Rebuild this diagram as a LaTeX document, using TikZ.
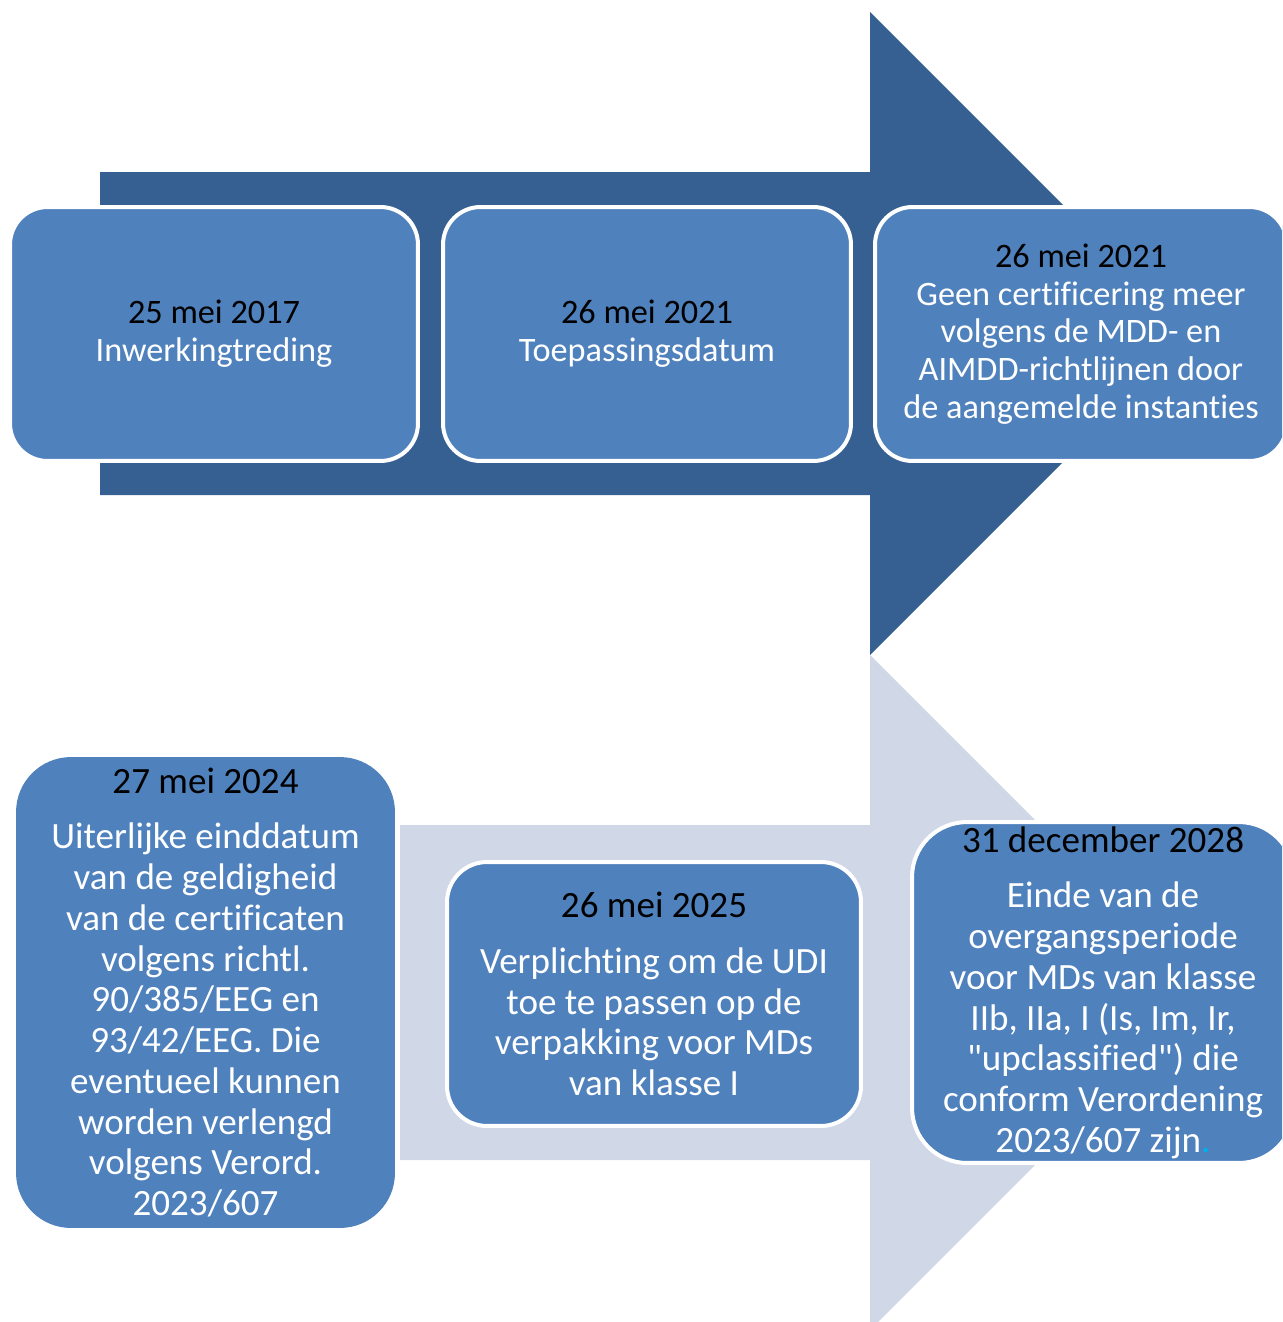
\documentclass[tikz,border=0pt]{standalone}
\usepackage{fontspec}
\setmainfont{Carlito}[Ligatures={TeX,NoCommon}]
\usetikzlibrary{positioning}
\usepackage{xcolor}
\definecolor{arrowdark}{RGB}{54,96,146}
\definecolor{arrowlight}{RGB}{208,216,232}
\definecolor{boxblue}{RGB}{79,129,189}
\definecolor{dotblue}{RGB}{0,176,240}

\begin{document}
\begin{tikzpicture}[
        x=0.02cm, y=-0.02cm,
        box/.style={draw=white, line width=0.08cm, fill=boxblue, align=center,
                    text=white, inner sep=0pt},
        topbox/.style={box, rounded corners=0.75cm, minimum width=8.16cm,
                       minimum height=5.08cm, font=\fontsize{19.5}{21.5}\selectfont},
        lowbox/.style={box, font=\fontsize{21.1}{23.2}\selectfont},
    ]

    \def\dat#1{{\color{black}#1}}

    \clip (0,0) rectangle (1282,1322);

    % ---------- Arrows in the background ----------------------------------
    \fill[arrowdark]  (100,172) -- (870,172) -- (870,12) -- (1191.5,333.5)
                      -- (870,655) -- (870,495) -- (100,495) -- cycle;
    \fill[arrowlight] (400,825) -- (870,825) -- (870,655) -- (1207.5,992.5)
                      -- (870,1330) -- (870,1160) -- (400,1160) -- cycle;

    % ---------- Upper row ------------------------------------------------
    \node[topbox] (inwerking)  at ( 214,334) {\dat{25 mei 2017}\\Inwerkingtreding};
    \node[topbox] (toepassing) at ( 647,334) {\dat{26 mei 2021}\\Toepassingsdatum};
    \node[topbox, minimum width=8.24cm] (certificering) at (1081,334)
        {\dat{26 mei 2021}\\Geen certificering meer\\volgens de MDD- en\\AIMDD-richtlijnen door\\de aangemelde instanties};

    % ---------- Lower row ------------------------------------------------
    \node[lowbox, draw=none, rounded corners=1.1cm, minimum width=7.58cm,
          minimum height=9.42cm] (geldigheid) at (205.5,992.5)
        {\dat{27 mei 2024}\\[8.5pt]Uiterlijke einddatum\\van de geldigheid\\van de certificaten\\volgens richtl.\\90/385/EEG en\\93/42/EEG. Die\\eventueel kunnen\\worden verlengd\\volgens Verord.\\2023/607};
    \node[lowbox, rounded corners=0.8cm, minimum width=8.28cm,
          minimum height=5.28cm] (udi) at (654,994)
        {\dat{26 mei 2025}\\[8.5pt]Verplichting om de UDI\\toe te passen op de\\verpakking voor MDs\\van klasse I};
    \node[lowbox, rounded corners=1.1cm, minimum width=7.64cm,
          minimum height=6.82cm] (overgang) at (1103,992.5)
        {\dat{31 december 2028}\\[8.5pt]Einde van de\\overgangsperiode\\voor MDs van klasse\\IIb, IIa, I (Is, Im, Ir,\\\textquotedbl upclassified\textquotedbl) die\\conform Verordening\\2023/607 zijn{\color{dotblue}.}};

\end{tikzpicture}
\end{document}
